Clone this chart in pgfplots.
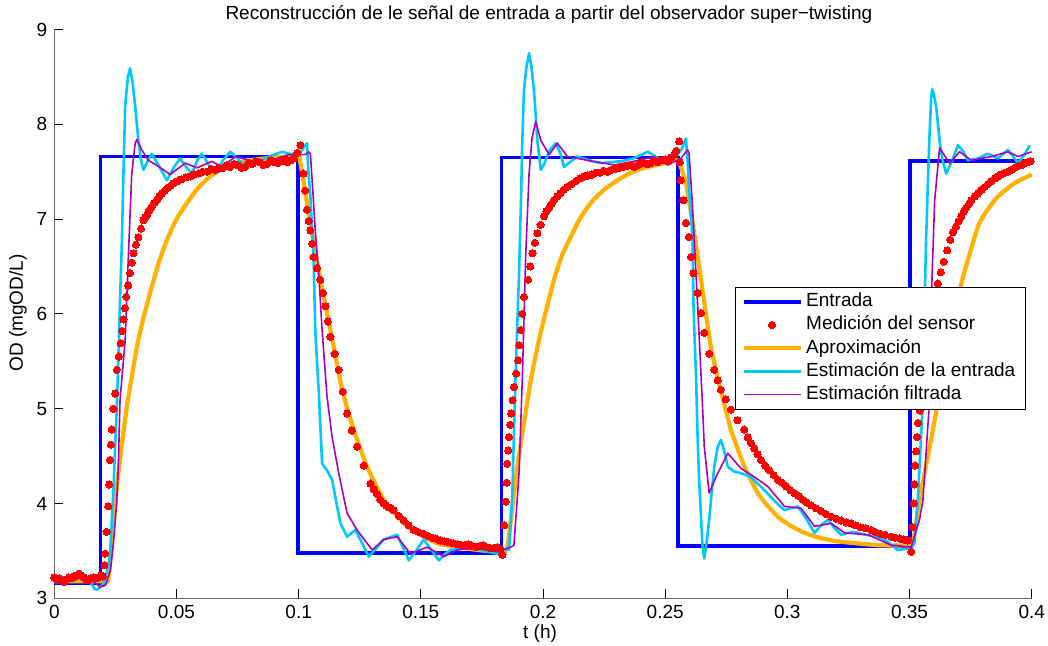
\documentclass[border=0pt]{standalone}
\usepackage{fontspec}
\setmainfont{Liberation Sans}
\usepackage{pgfplots}
\pgfplotsset{compat=1.18}
\newcommand\fsz{\fontsize{9.5}{11.4}\selectfont}
\definecolor{cEnt}{RGB}{0,0,255}
\definecolor{cMed}{RGB}{255,0,0}
\definecolor{cApr}{RGB}{255,176,0}
\definecolor{cEst}{RGB}{0,200,255}
\definecolor{cFil}{RGB}{170,0,190}
\begin{document}
\begin{tikzpicture}
\useasboundingbox (-27.15pt,-23.85pt) rectangle (496.85pt,299.15pt);
\begin{axis}[
  at={(0,0)}, anchor=south west, scale only axis,
  width=488.7pt, height=284.4pt,
  xmin=0, xmax=0.4, ymin=3, ymax=9,
  clip=false,
  axis lines=left,
  axis line style={-, draw=black!60, line width=0.6pt},
  tick align=inside, major tick length=4.5pt,
  tick style={black, line width=0.5pt},
  xtick={0,0.05,0.1,0.15,0.2,0.25,0.3,0.35,0.4},
  xticklabels={0,0.05,0.1,0.15,0.2,0.25,0.3,0.35,0.4},
  ytick={3,4,5,6,7,8,9},
  yticklabels={3,4,5,6,7,8,9},
  ticklabel style={font=\fsz},
  title={Reconstrucción de le señal de entrada a partir del observador super−twisting},
  title style={font=\fsz, at={(axis description cs:0.5061,1)}, anchor=center, yshift=1.75pt},
  xlabel={t (h)},
  xlabel style={font=\fsz, at={(axis description cs:0.497,0)}, anchor=center, yshift=-17.4pt},
  ylabel={OD (mgOD/L)},
  ylabel style={font=\fsz, at={(axis description cs:-0.0372,0.5016)}, anchor=center},
  legend style={at={(0.994,0.548)}, anchor=north east, draw=black, line width=0.6pt,
    fill=white, font=\fsz, inner xsep=3.2pt, inner ysep=1.5pt,
    nodes={inner xsep=1.75pt, inner ysep=1.1pt, text height=7.2pt, text depth=2.2pt},
    cells={anchor=west}},
  legend image code/.code={\draw[mark repeat=2,mark phase=2,#1] plot coordinates {(0cm,0cm) (0.5cm,0cm) (1cm,0cm)};},
]
% Entrada
\addplot[cEnt, line width=1.9pt, line join=miter] coordinates {
(0,3.16) (0.0189,3.16) (0.0189,7.66) (0.0998,7.66) (0.0998,3.475) (0.183,3.475)
(0.183,7.65) (0.2551,7.65) (0.2551,3.555) (0.3503,3.555) (0.3503,7.61) (0.4,7.61)};
\addlegendentry{Entrada}
% Medicion del sensor
\addplot[color=cMed, only marks, mark=*, mark size=1.8pt, mark options={draw=cMed, fill=cMed, line width=0pt}] coordinates {
(0,3.22) (0.001,3.2) (0.002,3.21) (0.003,3.19) (0.004,3.17) (0.005,3.2) (0.006,3.22) (0.007,3.21)
(0.008,3.23) (0.009,3.24) (0.01,3.26) (0.011,3.24) (0.012,3.22) (0.013,3.2) (0.014,3.19) (0.015,3.21)
(0.016,3.22) (0.017,3.21) (0.018,3.22) (0.019,3.24) (0.0198,3.23)
(0.0205,3.35) (0.0208,3.47) (0.0214,3.7) (0.0221,3.97) (0.0225,4.2) (0.0228,4.46) (0.0232,4.62)
(0.0235,4.78) (0.0242,5.0) (0.0249,5.16) (0.0256,5.41) (0.0264,5.55) (0.0272,5.69) (0.0278,5.82)
(0.0283,5.94) (0.0289,6.06) (0.0294,6.18) (0.0302,6.3) (0.031,6.43) (0.0317,6.54) (0.0324,6.64)
(0.0334,6.73) (0.0344,6.81) (0.0355,6.9) (0.0365,6.99)
(0.0373,7.02) (0.0382,7.06) (0.039,7.1) (0.0399,7.13) (0.041,7.17) (0.042,7.2) (0.043,7.24)
(0.044,7.27) (0.0452,7.3) (0.0464,7.33) (0.0476,7.35) (0.0488,7.38) (0.0504,7.4) (0.052,7.42)
(0.0538,7.44) (0.0556,7.45) (0.0573,7.47) (0.059,7.48) (0.0607,7.5) (0.0625,7.5) (0.0642,7.53)
(0.066,7.52) (0.0675,7.54) (0.069,7.54) (0.0705,7.57) (0.072,7.55) (0.0735,7.58) (0.075,7.57)
(0.0765,7.54) (0.078,7.55) (0.0795,7.59) (0.081,7.58) (0.0825,7.61) (0.084,7.6) (0.0855,7.57)
(0.087,7.58) (0.0885,7.62) (0.09,7.6) (0.0915,7.59) (0.093,7.61) (0.0943,7.63) (0.0955,7.6)
(0.0968,7.62) (0.098,7.64) (0.0995,7.7) (0.1007,7.78)
(0.102,7.48) (0.1027,7.3) (0.1034,7.1) (0.1041,6.98) (0.1048,6.88) (0.1055,6.74) (0.1061,6.6)
(0.1075,6.48) (0.1089,6.36) (0.11,6.22) (0.111,6.08) (0.112,5.92) (0.113,5.76) (0.1147,5.58)
(0.1164,5.41) (0.118,5.18) (0.1198,4.95) (0.1218,4.77) (0.1239,4.6) (0.1266,4.4) (0.1294,4.21)
(0.1307,4.15) (0.132,4.1) (0.1334,4.04) (0.1348,4.0) (0.1358,3.98) (0.1369,3.96) (0.1379,3.95)
(0.1389,3.93) (0.141,3.87) (0.143,3.82) (0.145,3.77) (0.1471,3.72) (0.149,3.7) (0.151,3.68)
(0.1528,3.66) (0.1545,3.64) (0.1562,3.63) (0.158,3.61) (0.1598,3.6) (0.1615,3.59) (0.1632,3.58)
(0.165,3.57) (0.1665,3.56) (0.168,3.56) (0.1695,3.57) (0.171,3.55) (0.1725,3.54) (0.174,3.55)
(0.1755,3.56) (0.177,3.54) (0.1785,3.53) (0.18,3.53) (0.1813,3.54) (0.1825,3.52) (0.1834,3.46)
(0.1841,3.77) (0.1847,4.02) (0.1851,4.22) (0.1854,4.42) (0.1858,4.56) (0.1861,4.7) (0.1866,4.83)
(0.187,4.95) (0.1876,5.09) (0.1881,5.23) (0.189,5.37) (0.1898,5.51) (0.1903,5.67) (0.1909,5.83)
(0.1915,6.0) (0.1922,6.18) (0.1939,6.36) (0.1948,6.5) (0.1957,6.64) (0.1967,6.75) (0.1977,6.85)
(0.199,6.94) (0.2004,7.03)
(0.2014,7.08) (0.2025,7.12) (0.2035,7.16) (0.2045,7.2) (0.2058,7.24) (0.207,7.27) (0.2085,7.31)
(0.21,7.34) (0.2117,7.37) (0.2134,7.4) (0.2151,7.43) (0.2168,7.45) (0.2184,7.46) (0.22,7.47)
(0.2216,7.49) (0.2232,7.49) (0.2248,7.51) (0.2264,7.5) (0.228,7.52) (0.2295,7.53) (0.2311,7.54)
(0.2327,7.55) (0.2343,7.56) (0.2359,7.57) (0.2375,7.55) (0.239,7.57) (0.2403,7.6) (0.2415,7.59)
(0.2428,7.58) (0.2441,7.59) (0.2455,7.61) (0.247,7.6) (0.2485,7.62) (0.25,7.63) (0.2513,7.61)
(0.2525,7.65) (0.2537,7.68) (0.2545,7.72) (0.2557,7.82)
(0.256,7.6) (0.2564,7.41) (0.2575,7.2) (0.2585,6.96) (0.2598,6.81) (0.2605,6.6)
(0.2616,6.43) (0.2633,6.22) (0.2646,6.01) (0.266,5.8) (0.268,5.58) (0.2701,5.41) (0.2715,5.3)
(0.2728,5.2) (0.2748,5.1) (0.2769,4.99) (0.2796,4.88) (0.2824,4.78)
(0.2838,4.7) (0.285,4.64) (0.2865,4.58) (0.2878,4.52) (0.2892,4.46) (0.2909,4.4) (0.2926,4.35)
(0.2944,4.3) (0.2961,4.25) (0.2978,4.22) (0.2995,4.18) (0.3012,4.14) (0.3029,4.11) (0.3046,4.08)
(0.3063,4.04) (0.308,4.01) (0.3097,3.98) (0.3117,3.95) (0.3138,3.92) (0.3158,3.89) (0.3179,3.86)
(0.32,3.84) (0.322,3.82) (0.324,3.8) (0.3261,3.79) (0.328,3.77) (0.33,3.75) (0.332,3.74)
(0.3343,3.72) (0.336,3.7) (0.338,3.68) (0.34,3.67) (0.3425,3.65) (0.3442,3.64) (0.346,3.63)
(0.3477,3.62) (0.3493,3.61) (0.3507,3.49)
(0.3512,3.75) (0.3517,4.0) (0.352,4.2) (0.3524,4.4) (0.3527,4.55) (0.3531,4.7) (0.3535,4.85)
(0.3542,4.98) (0.355,5.1) (0.3557,5.25) (0.3565,5.4) (0.3572,5.58) (0.358,5.75) (0.3588,5.92)
(0.3595,6.1) (0.3605,6.2) (0.3616,6.32) (0.3628,6.44) (0.364,6.55) (0.3654,6.67) (0.3667,6.78)
(0.3678,6.86) (0.369,6.92) (0.3701,6.98) (0.3712,7.03) (0.3722,7.08) (0.3732,7.12) (0.3743,7.16)
(0.3753,7.2) (0.3767,7.24) (0.378,7.27) (0.3794,7.31) (0.3808,7.34) (0.3822,7.37) (0.3835,7.4)
(0.3849,7.43) (0.3862,7.45) (0.3876,7.47) (0.389,7.49) (0.3903,7.5) (0.3917,7.52) (0.393,7.54)
(0.3944,7.56) (0.3958,7.57) (0.3971,7.59) (0.3984,7.6) (0.3995,7.61)};
\addlegendentry{Medición del sensor}
% Aproximacion
\addplot[cApr, line width=2.1pt, line join=round, smooth, tension=0.3] coordinates {
(0,3.18) (0.01,3.18) (0.02,3.18) (0.0221,3.2) (0.0242,3.79) (0.0262,4.32) (0.0297,5.02)
(0.0338,5.65) (0.0365,5.96) (0.0392,6.22) (0.0425,6.52) (0.0461,6.78) (0.05,7.0) (0.0543,7.17)
(0.0585,7.32) (0.0638,7.45) (0.0713,7.57) (0.08,7.62)
(0.09,7.65) (0.1,7.66) (0.1005,7.62) (0.102,7.4) (0.1041,7.06) (0.1082,6.46) (0.113,5.83)
(0.1178,5.2) (0.1225,4.78) (0.128,4.39) (0.1348,4.04) (0.1444,3.76) (0.1567,3.58) (0.1731,3.51)
(0.1827,3.49) (0.1854,3.54) (0.1895,4.39) (0.195,5.3) (0.199,5.8) (0.2045,6.36) (0.2075,6.6)
(0.2113,6.81) (0.215,7.0) (0.2195,7.17) (0.225,7.31) (0.2305,7.41) (0.236,7.49) (0.2414,7.54)
(0.2496,7.59) (0.2551,7.62) (0.2585,7.38) (0.2619,6.85)
(0.2653,6.25) (0.2687,5.65) (0.2725,5.22) (0.2769,4.78) (0.2824,4.39) (0.2879,4.11) (0.2915,3.99)
(0.2961,3.86) (0.301,3.77) (0.307,3.69) (0.313,3.64) (0.3207,3.6) (0.337,3.56) (0.3493,3.56)
(0.3515,3.6) (0.3541,4.04) (0.3575,4.5)
(0.3603,4.88) (0.3655,5.6) (0.3712,6.32) (0.378,6.92) (0.382,7.1) (0.3862,7.24) (0.393,7.38) (0.4,7.47)};
\addlegendentry{Aproximación}
% Estimacion de la entrada
\addplot[cEst, line width=1.3pt, line join=round] coordinates {
(0,3.22) (0.002,3.23) (0.004,3.21) (0.006,3.2) (0.008,3.19) (0.01,3.22) (0.0119,3.26) (0.0135,3.22)
(0.015,3.16) (0.0165,3.1) (0.0174,3.09) (0.0185,3.11) (0.0195,3.14) (0.0201,3.13) (0.021,3.22)
(0.0228,3.44) (0.0235,3.8) (0.0242,4.14) (0.0249,4.6) (0.0256,5.02) (0.0263,5.6) (0.0269,6.15)
(0.0276,6.71) (0.0283,7.48) (0.029,8.19) (0.0301,8.5) (0.031,8.59) (0.032,8.45) (0.0331,8.19)
(0.0344,7.83) (0.0355,7.62) (0.0365,7.52) (0.038,7.6) (0.0399,7.69) (0.043,7.55) (0.0461,7.41)
(0.049,7.55) (0.0515,7.64) (0.054,7.55) (0.0563,7.48) (0.0585,7.62) (0.0604,7.69) (0.063,7.58)
(0.0659,7.48) (0.069,7.62) (0.072,7.71) (0.0745,7.65) (0.0768,7.59) (0.0795,7.57) (0.0823,7.59)
(0.088,7.66) (0.0932,7.71) (0.096,7.69) (0.0986,7.68) (0.1005,7.7) (0.1027,7.78) (0.1034,7.8)
(0.104,7.5) (0.1048,7.24) (0.1055,6.9) (0.1061,6.6) (0.1068,5.83) (0.1075,5.5) (0.1082,5.2)
(0.1089,4.8) (0.1096,4.42) (0.1116,4.35) (0.1137,4.25) (0.1155,4.0) (0.1171,3.79) (0.1198,3.65)
(0.1232,3.72) (0.126,3.58) (0.1287,3.44) (0.1315,3.52) (0.1348,3.62) (0.1403,3.67) (0.1425,3.55)
(0.1451,3.4) (0.148,3.5) (0.1512,3.62) (0.154,3.52) (0.1574,3.4) (0.16,3.47) (0.1622,3.51)
(0.1704,3.54) (0.176,3.5) (0.1813,3.47) (0.1835,3.5) (0.1854,3.53) (0.1861,3.51) (0.1868,3.8)
(0.1875,4.14) (0.1881,4.75) (0.1888,5.37) (0.1895,5.9) (0.1902,6.43) (0.1911,7.31) (0.1915,7.8)
(0.1922,8.36) (0.1932,8.6) (0.1943,8.75) (0.1953,8.6) (0.1963,8.36) (0.197,8.1) (0.1977,7.83)
(0.1991,7.52) (0.2005,7.58) (0.2025,7.72) (0.2052,7.8) (0.207,7.7) (0.2086,7.55) (0.211,7.6)
(0.2141,7.66) (0.219,7.62) (0.2236,7.59) (0.2318,7.61) (0.237,7.64) (0.2428,7.71) (0.2455,7.67)
(0.2482,7.62) (0.251,7.63) (0.2551,7.68) (0.257,7.75) (0.2585,7.85) (0.2592,7.6) (0.2598,7.31)
(0.2605,7.05) (0.2612,6.78) (0.2616,6.08) (0.2621,5.7) (0.2626,5.37) (0.2633,4.67) (0.2639,4.25)
(0.2646,3.9) (0.2653,3.54) (0.266,3.42) (0.267,3.6) (0.268,3.83) (0.269,4.1) (0.2701,4.39)
(0.2715,4.6) (0.2728,4.67) (0.2742,4.55) (0.2756,4.39) (0.278,4.34) (0.281,4.32) (0.2851,4.28)
(0.2906,4.14) (0.295,4.02) (0.2988,3.93) (0.3015,3.95) (0.3043,3.97) (0.3075,3.85) (0.3111,3.69)
(0.3138,3.77) (0.3166,3.83) (0.319,3.75) (0.322,3.67) (0.3248,3.69) (0.3275,3.7) (0.332,3.67)
(0.337,3.65) (0.341,3.6) (0.3452,3.51) (0.348,3.52) (0.3507,3.53) (0.352,3.58) (0.3534,4.04)
(0.3545,4.6) (0.3555,5.09) (0.3562,6.15) (0.3568,6.8) (0.3575,7.38) (0.3582,7.9) (0.3589,8.3)
(0.3593,8.37) (0.3598,8.33) (0.3609,8.19) (0.3623,7.83) (0.3635,7.62) (0.365,7.48) (0.3675,7.62)
(0.3698,7.78) (0.3718,7.72) (0.3739,7.62) (0.378,7.64) (0.3821,7.69) (0.3862,7.64) (0.3903,7.73)
(0.3944,7.59) (0.397,7.68) (0.3992,7.78)};
\addlegendentry{Estimación de la entrada}
% Estimacion filtrada
\addplot[cFil, line width=0.8pt, line join=round] coordinates {
(0,3.2) (0.004,3.2) (0.008,3.19) (0.0119,3.23) (0.015,3.2) (0.0187,3.12) (0.021,3.14) (0.023,3.3)
(0.0242,3.58) (0.0255,4.0) (0.0262,4.39) (0.0269,5.09) (0.029,5.72) (0.0303,6.6) (0.0317,7.48)
(0.0331,7.8) (0.0338,7.84) (0.0358,7.73) (0.0385,7.62) (0.043,7.55) (0.0474,7.47) (0.0536,7.59)
(0.0584,7.54) (0.0645,7.61) (0.0686,7.55) (0.0741,7.66) (0.08,7.62) (0.085,7.59) (0.0959,7.68)
(0.1027,7.68) (0.1041,7.71) (0.1048,7.69) (0.1058,7.3) (0.1068,6.88) (0.1082,6.43) (0.1096,5.83)
(0.1116,5.13) (0.1137,4.7) (0.1164,4.32) (0.1198,3.9) (0.1239,3.72) (0.1301,3.51) (0.1348,3.62)
(0.1403,3.65) (0.1458,3.47) (0.1526,3.54) (0.1594,3.44) (0.1649,3.51) (0.1731,3.53) (0.1813,3.49)
(0.1868,3.54) (0.1881,3.56) (0.1902,4.32) (0.1916,5.37) (0.1929,6.6) (0.1943,7.48) (0.1955,7.85)
(0.197,8.03) (0.1991,7.83) (0.2025,7.68) (0.2059,7.8) (0.21,7.66) (0.2182,7.62) (0.2291,7.57)
(0.2373,7.61) (0.2455,7.66) (0.251,7.57) (0.2564,7.64) (0.2592,7.73) (0.2598,7.69) (0.2612,7.13)
(0.2619,6.78) (0.2633,6.08) (0.2643,5.55) (0.2653,5.02) (0.266,4.6) (0.268,4.11) (0.2708,4.28)
(0.2756,4.53) (0.281,4.37) (0.2865,4.28) (0.292,4.18) (0.2988,3.97) (0.3056,3.95) (0.3111,3.76)
(0.3179,3.79) (0.3234,3.69) (0.333,3.67) (0.3425,3.56) (0.3507,3.54) (0.3541,3.83) (0.3555,4.04)
(0.3582,5.09) (0.3589,6.15) (0.3603,7.2) (0.3623,7.75) (0.3664,7.59) (0.3705,7.71) (0.3753,7.62)
(0.3835,7.66) (0.3903,7.71) (0.3944,7.66) (0.4,7.71)};
\addlegendentry{Estimación filtrada}
\end{axis}
\end{tikzpicture}
\end{document}
